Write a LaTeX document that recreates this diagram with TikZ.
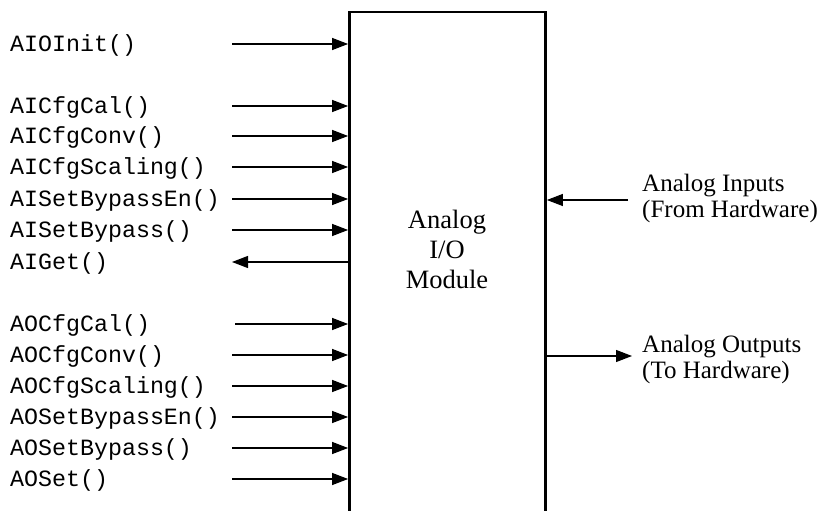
\documentclass[tikz,border=0pt]{standalone}
\usepackage{fontspec}
\setmainfont{Liberation Serif}
\setmonofont{Liberation Mono}
\usetikzlibrary{arrows.meta}
\tikzset{
  arr/.style={line width=1.2bp, -{Triangle[length=16bp,width=12bp]}},
  fn/.style={anchor=west, inner sep=0pt, text height=15bp, text depth=0bp,
    font=\ttfamily\fontsize{23.3bp}{26bp}\selectfont},
  side/.style={anchor=west, align=left, inner sep=0pt,
    font=\fontsize{25bp}{25.5bp}\selectfont},
  modbox/.style={draw, line width=2.8bp, minimum width=196bp, minimum height=530bp, inner sep=0pt},
}
\begin{document}
\begin{tikzpicture}[x=1bp,y=-1bp]
\useasboundingbox (0,0) rectangle (819,511);
\clip (0,0) rectangle (819,511);
\node[modbox] (mod) at (447.5,277) {};
\node[align=center, inner sep=0pt, font=\fontsize{26.5bp}{30bp}\selectfont] (mlab) at (447,249) {Analog\\I/O\\Module};

\coordinate (ax) at (232,0);
\coordinate (ax2) at (235,0);

\node[fn] (l1) at (10,44) {AIOInit()};
\node[fn] (l2) at (10,106) {AICfgCal()};
\node[fn] (l3) at (10,136) {AICfgConv()};
\node[fn] (l4) at (10,167) {AICfgScaling()};
\node[fn] (l5) at (10,199) {AISetBypassEn()};
\node[fn] (l6) at (10,230) {AISetBypass()};
\node[fn] (l7) at (10,262) {AIGet()};
\node[fn] (l8) at (10,324) {AOCfgCal()};
\node[fn] (l9) at (10,355) {AOCfgConv()};
\node[fn] (l10) at (10,386) {AOCfgScaling()};
\node[fn] (l11) at (10,417) {AOSetBypassEn()};
\node[fn] (l12) at (10,448) {AOSetBypass()};
\node[fn] (l13) at (10,479) {AOSet()};

\foreach \i in {1,2,3,4,5,6,9,10,11,12,13}{
  \draw[arr] (ax |- l\i.east) -- (mod.west |- l\i.east);
}
\draw[arr] (mod.west |- l7.east) -- (ax |- l7.east);
\draw[arr] (ax2 |- l8.east) -- (mod.west |- l8.east);

\node[side] (ain) at (642,198.5) {Analog Inputs\\(From Hardware)};
\node[side] (aout) at (642,359.5) {Analog Outputs\\(To Hardware)};
\coordinate (inS) at (628,200);
\coordinate (outE) at (632,356);
\draw[arr] (inS) -- (mod.east |- inS);
\draw[arr] (mod.east |- outE) -- (outE);
\end{tikzpicture}
\end{document}
